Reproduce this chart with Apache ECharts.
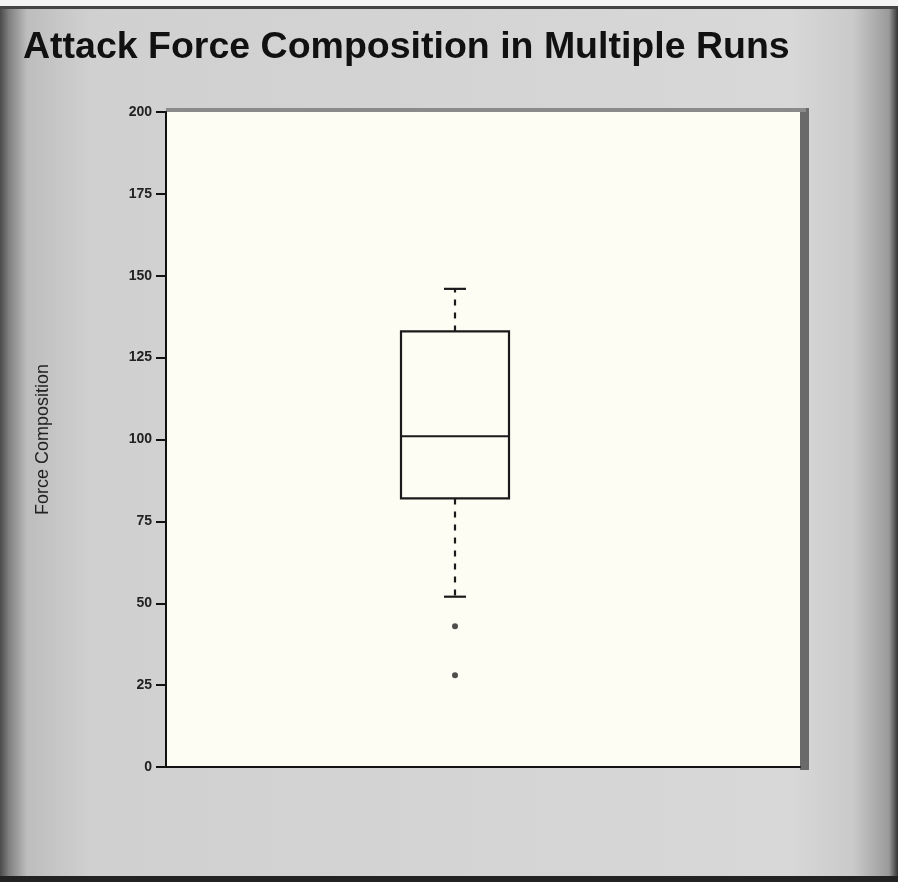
<!DOCTYPE html>
<html><head><meta charset="utf-8">
<script src="https://cdn.jsdelivr.net/npm/echarts@6/dist/echarts.min.js"></script>
<style>html,body{margin:0;padding:0;background:#fff}#c{width:898px;height:882px}</style>
</head><body><div id="c"></div>
<script>
// ---- data ----
const categories = ['Multiple Runs'];
// [low whisker, Q1, median, Q3, high whisker]
const boxStats = [[52, 82, 101, 133, 146]];
const outliers = [43, 28];
const yMin = 0, yMax = 200, yStep = 25;
const titleText = 'Attack Force Composition in Multiple Runs';
const yAxisName = 'Force Composition';

const chart = echarts.init(document.getElementById('c'), null, {renderer: 'canvas'});

const boxData = boxStats.map((s, i) => [i].concat(s));
const outlierData = outliers.map(v => [0, v]);

const option = {
  animation: false,
  backgroundColor: {
    type: 'linear', x: 0, y: 0, x2: 1, y2: 0,
    colorStops: [
      {offset: 0, color: '#4a4a4a'},
      {offset: 0.01, color: '#808080'},
      {offset: 0.03, color: '#bdbdbd'},
      {offset: 0.1, color: '#d0d0d0'},
      {offset: 0.88, color: '#d8d8d8'},
      {offset: 0.95, color: '#cacaca'},
      {offset: 0.99, color: '#9a9a9a'},
      {offset: 1, color: '#333'}
    ]
  },
  title: {
    text: titleText,
    left: 18, top: 24,
    textStyle: {fontFamily: 'Liberation Sans', fontWeight: 'bold', fontSize: 37.5, color: '#111'}
  },
  graphic: [
    {type: 'rect', shape: {x: 0, y: 0, width: 898, height: 7}, style: {fill: '#f4f4f4'}, z: -1},
    {type: 'rect', shape: {x: 0, y: 6, width: 898, height: 3}, style: {fill: '#444'}, z: -1},
    {type: 'rect', shape: {x: 0, y: 876, width: 898, height: 6}, style: {fill: '#222'}, z: -1},
    {type: 'rect', shape: {x: 800, y: 108, width: 9, height: 662}, style: {fill: '#6a6a6a'}, z: -1},
    {type: 'rect', shape: {x: 166, y: 108, width: 640, height: 4}, style: {fill: '#8a8a8a'}, z: -1}
  ],
  grid: [
    {left: 166, right: 98, top: 112, bottom: 115, show: true, backgroundColor: '#fdfdf4', borderWidth: 0},
    {left: 166, right: 154, top: 112, bottom: 115}
  ],
  xAxis: [
    {type: 'category', gridIndex: 0, data: categories, axisLine: {lineStyle: {color: '#111', width: 2}},
     axisTick: {show: false}, axisLabel: {show: false}},
    {type: 'category', gridIndex: 1, data: categories, show: false}
  ],
  yAxis: [
    {type: 'value', gridIndex: 0, min: yMin, max: yMax, interval: yStep,
     name: yAxisName, nameLocation: 'middle', nameGap: 114,
     nameTextStyle: {fontFamily: 'Liberation Sans', fontSize: 18, color: '#222'},
     axisLine: {show: true, lineStyle: {color: '#111', width: 2}},
     axisTick: {show: true, length: 10, lineStyle: {color: '#111', width: 2}},
     axisLabel: {margin: 14, fontFamily: 'Liberation Sans', fontWeight: 'bold', fontSize: 14, color: '#222'},
     splitLine: {show: false}},
    {type: 'value', gridIndex: 1, min: yMin, max: yMax, interval: yStep, show: false}
  ],
  series: [
    {
      type: 'custom', xAxisIndex: 1, yAxisIndex: 1, data: boxData, z: 5,
      renderItem: function (params, api) {
        const x = api.value(0);
        const lo = api.coord([x, api.value(1)]);
        const q1 = api.coord([x, api.value(2)]);
        const md = api.coord([x, api.value(3)]);
        const q3 = api.coord([x, api.value(4)]);
        const hi = api.coord([x, api.value(5)]);
        const cx = md[0];
        const hw = 54, cw = 11;
        const solid = {stroke: '#1a1a1a', lineWidth: 2.2, fill: null};
        const dashed = {stroke: '#1a1a1a', lineWidth: 2.2, lineDash: [6, 7], fill: null};
        return {type: 'group', children: [
          {type: 'rect', shape: {x: cx - hw, y: q3[1], width: hw * 2, height: q1[1] - q3[1]}, style: solid},
          {type: 'line', shape: {x1: cx - hw, y1: md[1], x2: cx + hw, y2: md[1]}, style: solid},
          {type: 'line', shape: {x1: cx, y1: q3[1], x2: cx, y2: hi[1]}, style: dashed},
          {type: 'line', shape: {x1: cx, y1: q1[1], x2: cx, y2: lo[1]}, style: dashed},
          {type: 'line', shape: {x1: cx - cw, y1: hi[1], x2: cx + cw, y2: hi[1]}, style: solid},
          {type: 'line', shape: {x1: cx - cw, y1: lo[1], x2: cx + cw, y2: lo[1]}, style: solid}
        ]};
      }
    },
    {
      type: 'scatter', xAxisIndex: 1, yAxisIndex: 1, data: outlierData,
      symbol: 'circle', symbolSize: 6, itemStyle: {color: '#222'}, z: 6
    }
  ]
};
chart.setOption(option);
</script>
</body></html>
